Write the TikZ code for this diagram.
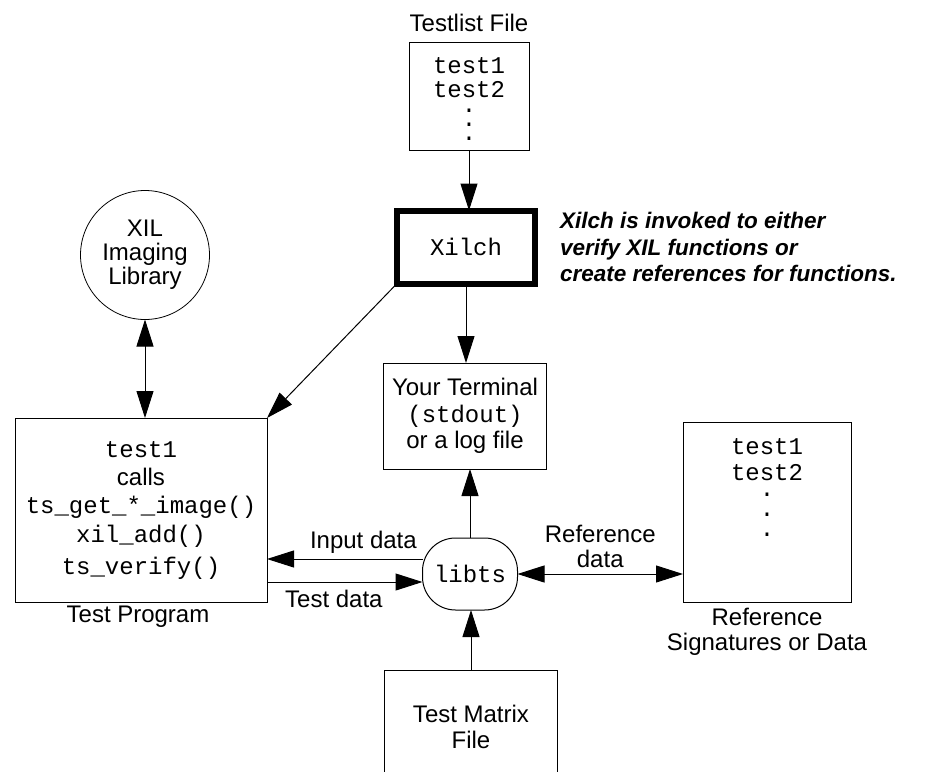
\documentclass[tikz,border=0pt]{standalone}
\usepackage{fontspec}
\setmainfont{Liberation Sans}
\setmonofont{Liberation Mono}
\usetikzlibrary{arrows.meta,shapes}
\usetikzlibrary{calc}

\begin{document}
\begin{tikzpicture}[x=1pt,y=-1pt,>={Triangle[length=27pt,width=17pt]},
        font=\fontsize{24}{26.5}\selectfont,
        box/.style={rectangle,draw=black,line width=1pt,inner sep=0pt,outer sep=0pt,align=center},
        xilchbox/.style={box,line width=6pt,minimum width=138pt,minimum height=73pt},
        roundbox/.style={box,rounded corners=33pt,minimum width=95pt,minimum height=72pt},
        libcircle/.style={circle,draw=black,line width=.8pt,inner sep=0pt,outer sep=0pt,minimum size=129pt,align=center},
        caption/.style={align=center,inner sep=0pt},
        note/.style={align=left,inner sep=0pt,font=\fontsize{22.5}{26.5}\selectfont\bfseries\itshape},
        link/.style={->,line width=1pt}]

        \useasboundingbox (0,0) rectangle (936,771);

        \node [xilchbox]  (xilch) at (466,247) {\texttt{Xilch}};
        \node [box,minimum width=120pt,minimum height=108pt] (testlist) [above of=xilch,node distance=151pt,xshift=3pt] {};
        \node [caption,anchor=north] (testlistitems) at ($(testlist.north)+(0,15)$)
              {\texttt{test1}\\[-2.5pt]\texttt{test2}\\[-11.5pt]\texttt{.}\\[-12.5pt]\texttt{.}\\[-12.5pt]\texttt{.}};
        \node [caption]   (testlisttitle) [above of=testlist,node distance=73pt] {Testlist File};
        \node [box,minimum width=163pt,minimum height=106pt] (term) [below of=xilch,node distance=169pt,xshift=-1pt]
              {Your Terminal\\\texttt{(stdout)}\\or a log file};
        \node [roundbox]  (libts) [below of=term,node distance=158pt,xshift=5pt] {\texttt{libts}};
        \node [box,minimum width=173pt,minimum height=114pt] (matrix) [below of=libts,node distance=153pt,xshift=1pt]
              {Test Matrix\\File};
        \node [box,minimum width=252pt,minimum height=184pt] (prog) [left of=libts,node distance=329pt,yshift=64pt]
              {\texttt{test1}\\[1.5pt]calls\\[1.5pt]\texttt{ts\_get\_*\_image()}\\[2.5pt]\texttt{xil\_add()}\\[5.5pt]\texttt{ts\_verify()}};
        \node [libcircle,font=\fontsize{24}{24}\selectfont] (xil) [above of=prog,node distance=255pt,xshift=4pt]
              {XIL\\Imaging\\Library};
        \node [box,minimum width=168pt,minimum height=180pt] (refbox) [right of=libts,node distance=297pt,yshift=62pt] {};
        \node [caption,anchor=north] (reflist) at ($(refbox.north)+(0,16)$)
              {\texttt{test1}\\\texttt{test2}\\[-10.5pt]\texttt{.}\\[-6.5pt]\texttt{.}\\[-6.5pt]\texttt{.}};

        \node [caption]   (progtitle) [below of=prog,node distance=107pt,xshift=-3pt] {Test Program};
        \node [caption,font=\fontsize{24}{24.5}\selectfont] (reftitle) [below of=refbox,node distance=120pt]
              {Reference\\Signatures or Data};
        \node [note,anchor=west] (note) at ($(xilch.east)+(25,0)$)
              {Xilch is invoked to either\\verify XIL functions or\\create references for functions.};

        \coordinate (inA)   at ($(libts.west)+(0,-15)$);
        \coordinate (testB) at ($(libts.west)+(0,8)$);

        \draw [link] (testlist.south) -- (testlist.south |- xilch.north);
        \draw [link] (xilch.south) -- (xilch.south |- term.north);
        \draw [link] (xilch.south west) -- (prog.north east);
        \draw [link,<->] (xil.south) -- (xil.south |- prog.north);
        \draw [link] (libts.north) -- (libts.north |- term.south);
        \draw [link] (matrix.north) -- (matrix.north |- libts.south);
        \draw [link] (inA) -- (inA -| prog.east) node [pos=.38,above=2pt] {Input data};
        \draw [link] (testB -| prog.east) -- (testB) node [pos=.43,below=4pt] {Test data};
        \draw [link,<->] (libts.east) -- (libts.east -| refbox.west)
              node [midway,above=6pt,caption,font=\fontsize{24}{25}\selectfont] {Reference\\data};
      \end{tikzpicture}
\end{document}
